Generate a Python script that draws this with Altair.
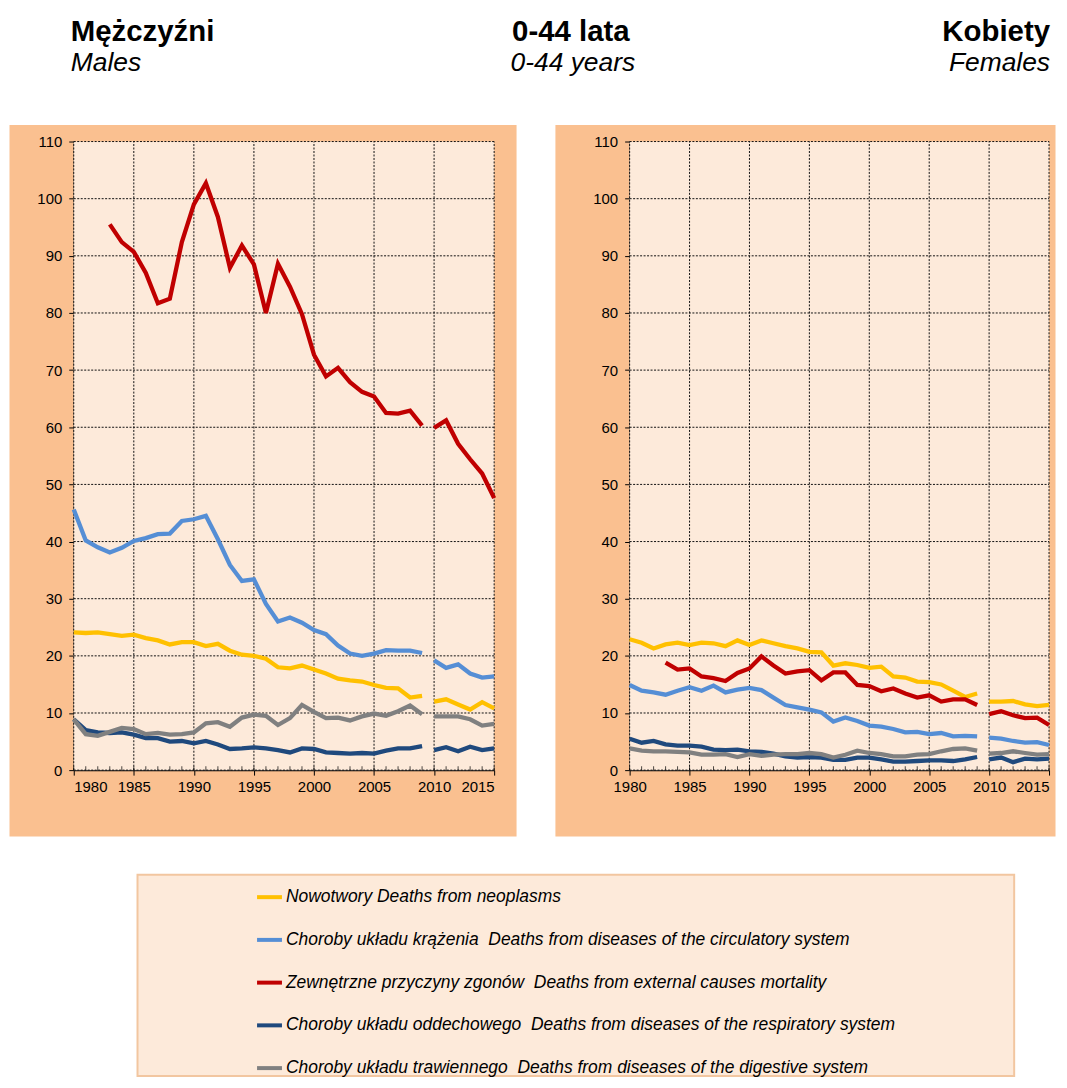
import altair as alt
import pandas as pd

# ---------------- data ----------------
years = list(range(1980, 2016))
break_year = 2010  # series are interrupted between 2009 and 2010
x_ticks = list(range(1980, 2016, 5))
y_ticks = list(range(0, 111, 10))

causes = [
    "Nowotwory Deaths from neoplasms",
    "Choroby układu krążenia\u00a0 Deaths from diseases of the circulatory system",
    "Zewnętrzne przyczyny zgonów\u00a0 Deaths from external causes mortality",
    "Choroby układu oddechowego\u00a0 Deaths from diseases of the respiratory system",
    "Choroby układu trawiennego\u00a0 Deaths from diseases of the digestive system",
]
colors = ["#FFC000", "#558ED5", "#C00000", "#1F497D", "#808080"]

titles_pl = ["Mężczyźni", "0-44 lata", "Kobiety"]
titles_en = ["Males", "0-44 years", "Females"]

# Males
neo_m = [24.1, 24.0, 24.1, 23.8, 23.5, 23.7, 23.1, 22.7, 22.0, 22.4, 22.4, 21.7, 22.1, 20.9, 20.2,
         20.0, 19.5, 18.0, 17.8, 18.3, 17.6, 16.9, 16.0, 15.7, 15.5, 14.9, 14.4, 14.3, 12.7, 13.0,
         12.0, 12.4, 11.5, 10.6, 11.9, 10.8]
circ_m = [45.6, 40.2, 39.0, 38.1, 38.9, 40.1, 40.6, 41.3, 41.4, 43.6, 43.9, 44.5, 40.4, 35.9, 33.1,
          33.4, 29.1, 26.0, 26.7, 25.8, 24.5, 23.8, 21.8, 20.4, 20.0, 20.4, 21.0, 20.9, 20.9, 20.5,
          19.2, 17.9, 18.5, 16.9, 16.2, 16.4]
ext_m = [None, None, None, 95.5, 92.4, 90.7, 87.0, 81.7, 82.5, 92.4, 99.0, 102.7, 96.8, 87.9, 91.8,
         88.5, 80.0, 88.6, 84.6, 79.8, 72.7, 68.9, 70.4, 67.9, 66.2, 65.4, 62.5, 62.4, 62.9, 60.3,
         59.9, 61.2, 57.1, 54.4, 51.9, 47.6]
resp_m = [8.9, 7.0, 6.6, 6.5, 6.6, 6.2, 5.6, 5.6, 5.0, 5.1, 4.7, 5.1, 4.5, 3.7, 3.8,
          4.0, 3.8, 3.5, 3.1, 3.8, 3.7, 3.1, 3.0, 2.9, 3.0, 2.9, 3.4, 3.8, 3.8, 4.2,
          3.5, 4.0, 3.3, 4.1, 3.5, 3.8]
dig_m = [8.9, 6.3, 6.0, 6.7, 7.4, 7.2, 6.3, 6.5, 6.2, 6.3, 6.6, 8.2, 8.4, 7.6, 9.2,
         9.7, 9.5, 7.9, 9.1, 11.4, 10.2, 9.1, 9.2, 8.7, 9.4, 9.9, 9.5, 10.3, 11.3, 9.8,
         9.4, 9.4, 9.4, 8.9, 7.8, 8.1]

# Females
neo_f = [22.9, 22.3, 21.3, 22.0, 22.3, 21.9, 22.3, 22.2, 21.7, 22.7, 21.9, 22.7, 22.2, 21.7, 21.3,
         20.7, 20.6, 18.3, 18.7, 18.4, 17.9, 18.1, 16.4, 16.2, 15.5, 15.4, 15.0, 13.9, 12.8, 13.4,
         12.0, 12.0, 12.1, 11.5, 11.2, 11.4]
circ_f = [14.9, 13.9, 13.6, 13.2, 13.9, 14.5, 13.9, 14.8, 13.6, 14.1, 14.4, 14.0, 12.7, 11.4, 11.0,
          10.6, 10.1, 8.5, 9.2, 8.6, 7.8, 7.6, 7.2, 6.6, 6.7, 6.3, 6.5, 5.9, 6.0, 5.9,
          5.7, 5.5, 5.1, 4.8, 4.9, 4.4]
ext_f = [None, None, None, 18.8, 17.6, 17.8, 16.4, 16.1, 15.6, 17.0, 17.8, 19.9, 18.3, 16.9, 17.3,
         17.5, 15.7, 17.1, 17.1, 14.9, 14.7, 13.8, 14.3, 13.4, 12.7, 13.1, 12.0, 12.4, 12.4, 11.4,
         9.8, 10.3, 9.6, 9.1, 9.2, 7.9]
resp_f = [5.5, 4.8, 5.1, 4.5, 4.3, 4.3, 4.1, 3.6, 3.5, 3.6, 3.3, 3.2, 2.9, 2.4, 2.2,
          2.3, 2.2, 1.8, 1.8, 2.2, 2.2, 1.9, 1.5, 1.5, 1.6, 1.7, 1.7, 1.6, 1.9, 2.3,
          1.9, 2.2, 1.4, 2.0, 1.9, 2.0]
dig_f = [3.8, 3.4, 3.3, 3.3, 3.2, 3.1, 2.7, 2.7, 2.8, 2.3, 2.8, 2.5, 2.7, 2.8, 2.8,
         3.0, 2.8, 2.2, 2.7, 3.4, 3.0, 2.8, 2.4, 2.4, 2.7, 2.8, 3.3, 3.7, 3.8, 3.4,
         2.9, 3.0, 3.3, 3.0, 2.7, 2.8]

males = [neo_m, circ_m, ext_m, resp_m, dig_m]
females = [neo_f, circ_f, ext_f, resp_f, dig_f]

# ---------------- styling ----------------
FONT = "Liberation Sans"
PANEL_BG = "#FAC090"
PLOT_BG = "#FDEADA"
LEGEND_BORDER = "#F2C6A0"
PANEL_H = 714

color_scale = alt.Scale(domain=causes, range=colors)


def long_df(series):
    rows = []
    for cause, vals in zip(causes, series):
        for yr, v in zip(years, vals):
            if v is None:
                continue
            rows.append({"year": yr, "value": v, "cause": cause,
                         "seg": 0 if yr < break_year else 1})
    return pd.DataFrame(rows)


def panel(series, width, x_range, y_range, flush_last=False):
    xs = alt.Scale(domain=[years[0], years[-1]], range=x_range, nice=False, zero=False)
    ys = alt.Scale(domain=[y_ticks[0], y_ticks[-1]], range=y_range, nice=False)

    x_axis_kw = dict(orient="bottom", offset=-(PANEL_H - y_range[0]), values=x_ticks,
                     format="d", tickSize=5, tickColor="black", tickWidth=1,
                     domainColor="black", domainWidth=1.2, labelColor="black",
                     labelFont=FONT, labelFontSize=15, labelPadding=4,
                     labelOverlap=False, grid=False, title=None)
    if flush_last:
        # keep the last year label inside the page
        x_axis_kw["labelAlign"] = {"condition": {"test": f"datum.value == {x_ticks[-1]}",
                                                 "value": "right"},
                                   "value": "center"}
    main_x = alt.Axis(**x_axis_kw)
    main_y = alt.Axis(orient="left", offset=-x_range[0], values=y_ticks, format="d",
                      tickSize=5, tickColor="black", tickWidth=1, domainColor="black",
                      domainWidth=1.2, labelColor="black", labelFont=FONT,
                      labelFontSize=15, labelPadding=7, labelOverlap=False,
                      grid=False, title=None)

    bg = alt.Chart(pd.DataFrame({"x": [years[0]], "x2": [years[-1]],
                                 "y": [y_ticks[0]], "y2": [y_ticks[-1]]})).mark_rect(
        fill=PLOT_BG).encode(
        x=alt.X("x:Q", scale=xs, axis=None), x2="x2",
        y=alt.Y("y:Q", scale=ys, axis=None), y2="y2")

    vgrid = alt.Chart(pd.DataFrame({"x": x_ticks, "y": y_ticks[0], "y2": y_ticks[-1]})).mark_rule(
        color="#111111", strokeDash=[2, 1.5], strokeWidth=1).encode(
        x=alt.X("x:Q", scale=xs, axis=None),
        y=alt.Y("y:Q", scale=ys, axis=None), y2="y2")

    hgrid = alt.Chart(pd.DataFrame({"y": y_ticks, "x": years[0], "x2": years[-1]})).mark_rule(
        color="#111111", strokeDash=[2, 1.5], strokeWidth=1).encode(
        y=alt.Y("y:Q", scale=ys, axis=None),
        x=alt.X("x:Q", scale=xs, axis=None), x2="x2")

    # small inward year ticks along the x axis
    minor = alt.Chart(pd.DataFrame({"x": years, "y": y_ticks[0]})).mark_tick(
        orient="vertical", size=4, thickness=1, color="black", yOffset=-2).encode(
        x=alt.X("x:Q", scale=xs, axis=None),
        y=alt.Y("y:Q", scale=ys, axis=None))

    lines = alt.Chart(long_df(series)).mark_line(strokeWidth=4.3).encode(
        x=alt.X("year:Q", scale=xs, axis=main_x),
        y=alt.Y("value:Q", scale=ys, axis=main_y),
        color=alt.Color("cause:N", scale=color_scale, sort=causes, legend=None),
        detail="seg:N",
    )

    return alt.layer(bg, vgrid, hgrid, minor, lines).resolve_axis(
        x="independent", y="independent").properties(
        width=width, height=PANEL_H,
        view=alt.ViewBackground(fill=PANEL_BG, stroke="transparent"))


left = panel(males, 509, [65, 487], [648, 17])
right = panel(females, 502, [75, 496], [648, 17], flush_last=True)

panels = alt.hconcat(left, right, spacing=37).resolve_scale(x="independent", y="independent")

# ---------------- header ----------------
def title_text(text, x, y, size, weight, style, align):
    return alt.Chart(pd.DataFrame({"t": [text]})).mark_text(
        font=FONT, fontSize=size, fontWeight=weight, fontStyle=style, align=align,
        baseline="alphabetic", color="black").encode(
        text="t:N", x=alt.value(x), y=alt.value(y))


header = alt.layer(
    title_text(titles_pl[0], 62, 30, 29.5, "bold", "normal", "left"),
    title_text(titles_en[0], 62, 60, 26.5, "normal", "italic", "left"),
    title_text(titles_pl[1], 564, 30, 29.5, "bold", "normal", "center"),
    title_text(titles_en[1], 566, 60, 26.5, "normal", "italic", "center"),
    title_text(titles_pl[2], 1045, 30, 29.5, "bold", "normal", "right"),
    title_text(titles_en[2], 1045, 60, 26.5, "normal", "italic", "right"),
).properties(width=1040, height=75)

# ---------------- legend panel ----------------
LEG_H = 202
spacer = alt.Chart(pd.DataFrame({"a": [0]})).mark_text(text="").encode(
    x=alt.value(20), y=alt.value(20)).properties(width=127, height=LEG_H)

legend_panel = alt.Chart(pd.DataFrame({"cause": causes})).mark_line(strokeWidth=1).encode(
    x=alt.value(20), y=alt.value(20),
    color=alt.Color("cause:N", scale=color_scale, sort=causes,
                    legend=alt.Legend(orient="none", legendX=118, legendY=8, title=None,
                                      symbolType="stroke", symbolSize=625,
                                      symbolStrokeWidth=4, labelFont=FONT,
                                      labelFontSize=17.5, labelFontStyle="italic",
                                      labelColor="black", labelLimit=900, rowPadding=19.9,
                                      labelOffset=2, padding=0, direction="vertical")),
).properties(width=880, height=LEG_H,
             view=alt.ViewBackground(fill=PLOT_BG, stroke=LEGEND_BORDER, strokeWidth=2))

legend_row = alt.hconcat(spacer, legend_panel, spacing=0).resolve_legend(color="independent")

chart = alt.vconcat(header, panels, legend_row, spacing=37).resolve_legend(
    color="independent").properties(
    padding={"left": 0, "top": 0, "right": 0, "bottom": 0}).configure_view(stroke="transparent")

chart.save("out.html", embed_options={"renderer": "svg", "actions": False})
